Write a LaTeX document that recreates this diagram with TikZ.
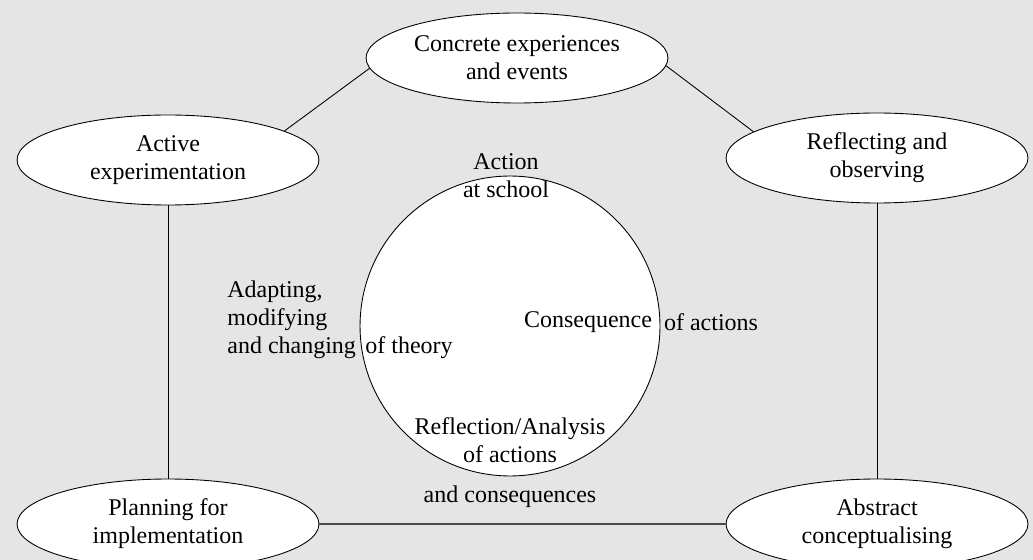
\documentclass[tikz,border=0pt]{standalone}
\usepackage{fontspec}
\setmainfont{Liberation Serif}
\usetikzlibrary{shapes.geometric}
\definecolor{bggray}{RGB}{229,229,229}
\begin{document}
\begin{tikzpicture}
  [x=0.02cm,y=-0.02cm,
   every node/.style={font=\fontsize{13.66}{15.9}\selectfont,align=center,inner sep=0pt},
   stage/.style={ellipse,draw,fill=white,line width=0.5pt,minimum width=6.04cm,minimum height=1.8cm}]
 \useasboundingbox (0,0) rectangle (1033,560);
 \clip (0,0) rectangle (1033,560);
 \fill[bggray] (0,0) rectangle (1033,560);

 \node (conc)[stage] at (517,58)  {Concrete experiences\\and events};
  \node (act)[stage] at (168,160) {Active\\experimentation};
  \node (refl)[stage] at (877,158) {Reflecting and\\observing};
  \node (plan)[stage] at (168,524) {Planning for\\implementation};
  \node (abst)[stage] at (877,524) {Abstract\\conceptualising};

 \node (cycle)[circle,draw,fill=white,line width=0.5pt,minimum size=6cm] at (510,326) {};
  \node (action) at (506,176) {Action\\at school};
  \node (conseq) at (588,322) {Consequence};
  \node (ofact) at (711,322) {of actions};
  \node (adapt)[anchor=west,align=left] at (227,320) {Adapting,\\modifying\\and changing};
  \node (theory) at (409,348) {of theory};
  \node (reflan) at (510,440) {Reflection/Analysis\\of actions};
  \node (andcons) at (510,497) {and consequences};

 \foreach \from/\to in {act.14/conc.184,refl.168/conc.-3,act/plan,refl/abst}
    \draw[line width=0.5pt] (\from) -- (\to);
 \draw[gray!60!black,line width=1pt] (plan) -- (abst);
\end{tikzpicture}
\end{document}
